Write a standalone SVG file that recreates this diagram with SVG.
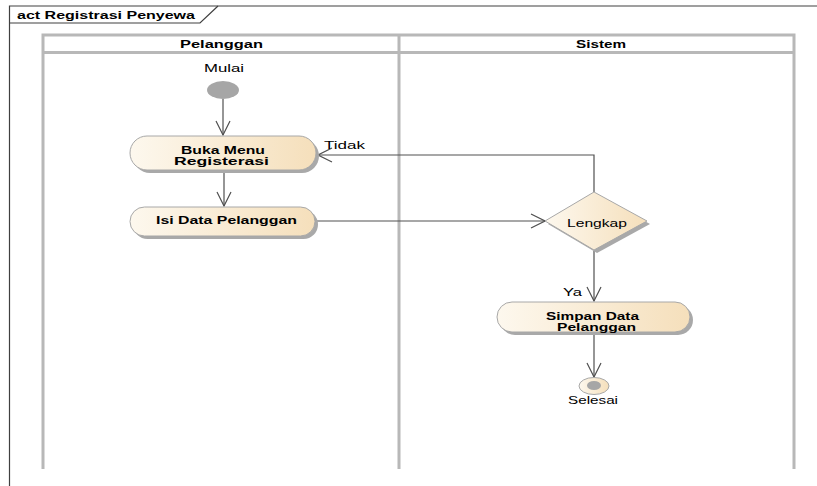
<svg xmlns="http://www.w3.org/2000/svg" width="817" height="486" viewBox="0 0 817 486">
  <style>
    .frame { fill: none; stroke: #404040; stroke-width: 1.2; }
    .lane { fill: none; stroke: #b8b8b8; stroke-width: 3; }
    .title { font-family: "Liberation Sans", Arial, sans-serif; font-size: 11px; font-weight: bold; fill: #000; }
    .hdr { font-family: "Liberation Sans", Arial, sans-serif; font-size: 11px; font-weight: bold; fill: #000; }
    .act { fill: url(#actFill); stroke: #a8a8a8; stroke-width: 1; }
    .shadow { fill: #a9a9a9; }
    .albl { font-family: "Liberation Sans", Arial, sans-serif; font-size: 11px; font-weight: bold; fill: #000; }
    .lbl { font-family: "Liberation Sans", Arial, sans-serif; font-size: 11px; fill: #000; }
    .edge { fill: none; stroke: #505050; stroke-width: 1.2; }
  </style>
  <defs>
    <linearGradient id="actFill" x1="0" y1="0" x2="1" y2="0">
      <stop offset="0" stop-color="#fdf8ee"/>
      <stop offset="1" stop-color="#f5dfbb"/>
    </linearGradient>
    <marker id="open" viewBox="0 0 16 16" refX="15" refY="8" markerWidth="16" markerHeight="16" markerUnits="userSpaceOnUse" orient="auto">
      <path d="M1,1 L15,8 L1,15" fill="none" stroke="#505050" stroke-width="1.2"/>
    </marker>
  </defs>

  <rect width="817" height="486" fill="#fff"/>

  <!-- diagram frame with name tab -->
  <g id="frame">
    <path class="frame" d="M9.5,486 L9.5,6 L817,6"/>
    <path class="frame" d="M9.5,23 L200,23 L218,6"/>
    <text class="title" x="17" y="18.5" textLength="178" lengthAdjust="spacingAndGlyphs">act Registrasi Penyewa</text>
  </g>

  <!-- swimlanes -->
  <g id="lanes">
    <path class="lane" d="M43,469 L43,35 L794,35 L794,469"/>
    <line class="lane" x1="43" y1="52.5" x2="794" y2="52.5"/>
    <line class="lane" x1="399" y1="35" x2="399" y2="469"/>
    <text class="hdr" x="180" y="48" textLength="83" lengthAdjust="spacingAndGlyphs">Pelanggan</text>
    <text class="hdr" x="576" y="48" textLength="50" lengthAdjust="spacingAndGlyphs">Sistem</text>
  </g>

  <!-- connectors -->
  <g id="edges">
    <line class="edge" x1="223" y1="99" x2="223" y2="135" marker-end="url(#open)"/>
    <line class="edge" x1="224" y1="171" x2="224" y2="206" marker-end="url(#open)"/>
    <line class="edge" x1="317" y1="221" x2="545" y2="221" marker-end="url(#open)"/>
    <path class="edge" d="M594,192 L594,155 L318,155" marker-end="url(#open)"/>
    <line class="edge" x1="594" y1="251" x2="594" y2="301" marker-end="url(#open)"/>
    <line class="edge" x1="594" y1="333" x2="594" y2="377" marker-end="url(#open)"/>
    <text class="lbl" x="324" y="149" textLength="41" lengthAdjust="spacingAndGlyphs">Tidak</text>
    <text class="lbl" x="563" y="296" textLength="19" lengthAdjust="spacingAndGlyphs">Ya</text>
  </g>

  <!-- initial node -->
  <g id="mulai">
    <ellipse cx="223" cy="90" rx="16" ry="9" fill="#a6a6a6"/>
    <text class="lbl" x="204" y="72" textLength="40" lengthAdjust="spacingAndGlyphs">Mulai</text>
  </g>

  <!-- activities -->
  <g id="buka-menu">
    <rect class="shadow" x="133" y="139" width="186" height="34" rx="17"/>
    <rect class="act" x="130" y="136" width="186" height="34" rx="17"/>
    <text class="albl" x="181" y="153.5" textLength="84" lengthAdjust="spacingAndGlyphs">Buka Menu</text>
    <text class="albl" x="174" y="165" textLength="95" lengthAdjust="spacingAndGlyphs">Registerasi</text>
  </g>

  <g id="isi-data">
    <rect class="shadow" x="133" y="210" width="185" height="29" rx="14.5"/>
    <rect class="act" x="130" y="207" width="185" height="29" rx="14.5"/>
    <text class="albl" x="156" y="223.5" textLength="141" lengthAdjust="spacingAndGlyphs">Isi Data Pelanggan</text>
  </g>

  <!-- decision -->
  <g id="lengkap">
    <polygon class="shadow" points="548,224 597,195 650,224 597,253"/>
    <polygon class="act" points="545,221 594,192 647,221 594,250"/>
    <text class="lbl" x="567" y="226.5" textLength="60" lengthAdjust="spacingAndGlyphs">Lengkap</text>
  </g>

  <g id="simpan-data">
    <rect class="shadow" x="500" y="305" width="193" height="30" rx="15"/>
    <rect class="act" x="497" y="302" width="193" height="30" rx="15"/>
    <text class="albl" x="546" y="320" textLength="93" lengthAdjust="spacingAndGlyphs">Simpan Data</text>
    <text class="albl" x="557" y="331" textLength="79" lengthAdjust="spacingAndGlyphs">Pelanggan</text>
  </g>

  <!-- final node -->
  <g id="selesai">
    <ellipse cx="594" cy="386" rx="15" ry="8.5" fill="url(#actFill)" stroke="#a8a8a8" stroke-width="1"/>
    <ellipse cx="594" cy="385.5" rx="7" ry="4.5" fill="#a6a6a6"/>
    <text class="lbl" x="568" y="404" textLength="50" lengthAdjust="spacingAndGlyphs">Selesai</text>
  </g>
</svg>
